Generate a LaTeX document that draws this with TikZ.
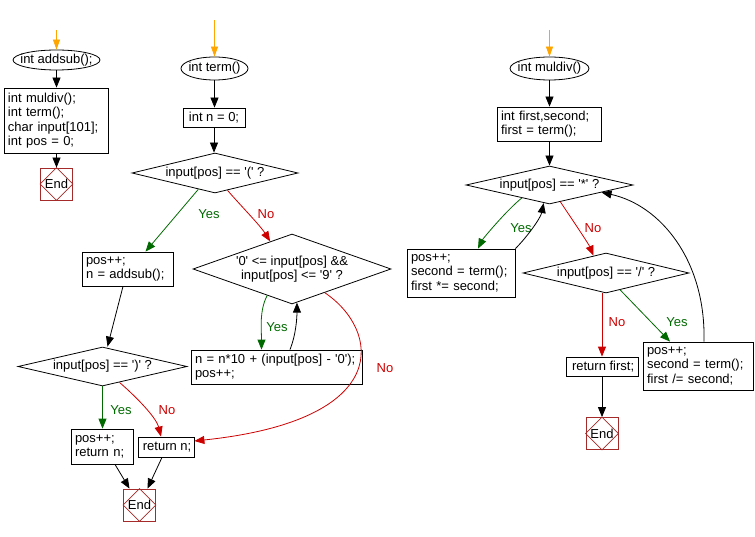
\documentclass[tikz,border=0pt]{standalone}
\usepackage{fontspec}
\setmainfont{Liberation Sans}[Ligatures=TeXOff]
\usetikzlibrary{shapes.geometric,arrows.meta,calc}
\definecolor{endred}{RGB}{165,42,42}
\definecolor{yesg}{RGB}{0,105,0}
\definecolor{nor}{RGB}{205,0,0}
\definecolor{startor}{RGB}{255,165,0}
\begin{document}
\begin{tikzpicture}[x=1pt,y=-1pt,
  every node/.style={font=\fontsize{13}{14.5}\selectfont},
  box/.style={draw, line width=0.8pt, inner xsep=4pt, inner ysep=0pt, align=left},
  sbox/.style={draw, line width=0.8pt, inner sep=0pt, align=center},
  dia/.style={diamond, draw, line width=0.8pt, inner sep=0pt},
  ell/.style={ellipse, draw, line width=0.8pt, inner sep=0pt},
  endbox/.style={draw=endred, line width=0.8pt, minimum width=32pt, minimum height=32pt, inner sep=0pt},
  arr/.style={-{Triangle[length=10pt,width=8pt]}, line width=0.8pt},
  yarr/.style={arr, yesg},
  narr/.style={arr, nor},
  startarr/.style={startor, -{Triangle[length=10pt,width=7pt]}, line width=0.8pt},
  ytext/.style={text=yesg},
  ntext/.style={text=nor}]
\useasboundingbox (0,0) rectangle (755,537);

% ---------- column 1: addsub ----------
\coordinate (s1) at (56.5,30);
\node[ell, minimum width=87pt, minimum height=20pt, label={center:{int addsub();}}] (el1) at (56.5,60) {};
\node[box, minimum height=65pt, text width=96pt] (b1) at (56,120.5) {int muldiv();\\int term();\\char input[101];\\int pos = 0;};
\node[endbox] (e1) at (56.5,184) {End};
\draw[endred, line width=0.6pt] (e1.north) -- (e1.east) -- (e1.south) -- (e1.west) -- cycle;
\draw[startarr] (s1) -- (el1.north);
\draw[arr] (el1.south) -- (el1.south |- b1.north);
\draw[arr] (b1.south -| e1.north) -- (e1.north);

% ---------- column 2: term ----------
\coordinate (s2) at (214.5,20);
\node[ell, minimum width=67pt, minimum height=23pt, label={center:{int term()}}] (el2) at (214.5,68.5) {};
\node[sbox, minimum width=62pt, minimum height=19pt] (b0) at (214,117.5) {int n = 0;};
\node[dia, minimum width=166pt, minimum height=40pt, label={center:{input[pos] == '(' ?}}] (d1) at (215,173) {};
\node[box, minimum height=34pt, text width=83pt] (b2) at (127.5,269) {pos++;\\n = addsub();};
\node[dia, minimum width=198pt, minimum height=70pt, label={[align=center]center:{'0' <= input[pos] \&\&\\ input[pos] <= '9' ?}}] (d2) at (292,269) {};
\node[box, minimum height=34pt, text width=163pt] (b3) at (276.5,367) {n = n*10 + (input[pos] - '0');\\pos++;};
\node[dia, minimum width=169pt, minimum height=39pt, label={center:{input[pos] == ')' ?}}] (d3) at (102.5,366.5) {};
\node[box, minimum height=35pt, text width=54pt] (b4) at (102,446.5) {pos++;\\return n;};
\node[sbox, minimum width=56pt, minimum height=20pt] (b5) at (166,447) {\,return n;};
\node[endbox] (e2) at (139.5,505) {End};
\draw[endred, line width=0.6pt] (e2.north) -- (e2.east) -- (e2.south) -- (e2.west) -- cycle;

\draw[startarr] (s2) -- (el2.north);
\draw[arr] (el2.south) -- (el2.south |- b0.north);
\draw[arr] (b0.south) -- (b0.south |- d1.north);
\draw[yarr] ($(d1.south)!0.2!(d1.west)$) -- ([xshift=18pt]b2.north);
\node[ytext] (y1) at (209,214) {Yes};
\draw[narr] ($(d1.south)!0.15!(d1.east)$) .. controls +(12,14) and +(-10,-16) .. ($(d2.north)!0.22!(d2.west)$);
\node[ntext] (n1) at (266,214) {No};
\draw[arr] ([xshift=-4.5pt]b2.south) -- ([xshift=5pt]d3.north);
\draw[yarr] ($(d2.south)!0.25!(d2.west)$) .. controls +(-8,15) and +(0,-20) .. ([xshift=-15pt]b3.north);
\node[ytext] (y2) at (277,327) {Yes};
\draw[arr] ([xshift=13.5pt]b3.north) .. controls +(6,-15) and +(0,15) .. ($(d2.south)!0.05!(d2.east)$);
\draw[narr] ($(d2.south)!0.33!(d2.east)$) .. controls (380,330) and (395,420) .. ([yshift=6pt]b5.east);
\node[ntext] (n2) at (385,368) {No};
\draw[yarr] (d3.south) -- (d3.south |- b4.north);
\node[ytext] (y3) at (121,410) {Yes};
\draw[narr] ($(d3.south)!0.2!(d3.east)$) .. controls +(14,12) and +(-5,-20) .. ([xshift=-5pt]b5.north);
\node[ntext] (n3) at (167,410) {No};
\draw[arr] ([xshift=13pt]b4.south) -- ([xshift=-10pt]e2.north);
\draw[arr] ([xshift=-4pt]b5.south) -- ([xshift=8pt]e2.north);

% ---------- column 3: muldiv ----------
\coordinate (s3) at (549.5,30);
\node[ell, minimum width=79pt, minimum height=23pt, label={center:{int muldiv()}}] (el3) at (549.5,68.5) {};
\node[box, minimum height=34pt, text width=96pt] (b6) at (549,124) {int first,second;\\first = term();};
\node[dia, minimum width=167pt, minimum height=38pt, label={center:{input[pos] == '*' ?}}] (d4) at (549.5,185) {};
\node[box, minimum height=48pt, text width=100pt] (b7) at (461,273) {pos++;\\second = term();\\first *= second;};
\node[dia, minimum width=166pt, minimum height=40pt, label={center:{input[pos] == '/' ?}}] (d5) at (606,273) {};
\node[sbox, minimum width=72pt, minimum height=19pt] (b8) at (602,366.5) {\,return first;};
\node[box, minimum height=48pt, text width=102pt] (b9) at (698,366) {pos++;\\second = term();\\first /= second;};
\node[endbox] (e3) at (602,433.5) {End};
\draw[endred, line width=0.6pt] (e3.north) -- (e3.east) -- (e3.south) -- (e3.west) -- cycle;

\draw[startarr] (s3) -- (el3.north);
\draw[arr] (el3.south) -- (el3.south |- b6.north);
\draw[arr] (b6.south -| d4.north) -- (d4.north);
\draw[yarr] ($(d4.south)!0.33!(d4.west)$) .. controls +(-15,12) and +(5,-10) .. ([xshift=17pt]b7.north);
\node[ytext] (y4) at (521,228) {Yes};
\draw[arr] (b7.north east) .. controls +(12,-12) and +(-3,15) .. ($(d4.south)!0.07!(d4.west)$);
\draw[narr] ($(d4.south)!0.13!(d4.east)$) .. controls +(10,15) and +(-5,-12) .. ($(d5.north)!0.15!(d5.west)$);
\node[ntext] (n4) at (593,228) {No};
\draw[narr] (b8.north |- d5.south) -- (b8.north);
\node[ntext] (n5) at (617,322) {No};
\draw[yarr] ($(d5.south)!0.17!(d5.east)$) -- ([xshift=-28pt]b9.north);
\node[ytext] (y5) at (677,322) {Yes};
\draw[arr] ([xshift=6pt]b9.north) .. controls (706,260) and (660,205) .. ($(d4.south)!0.62!(d4.east)$);
\draw[arr] (b8.south) -- (b8.south |- e3.north);
\end{tikzpicture}
\end{document}
